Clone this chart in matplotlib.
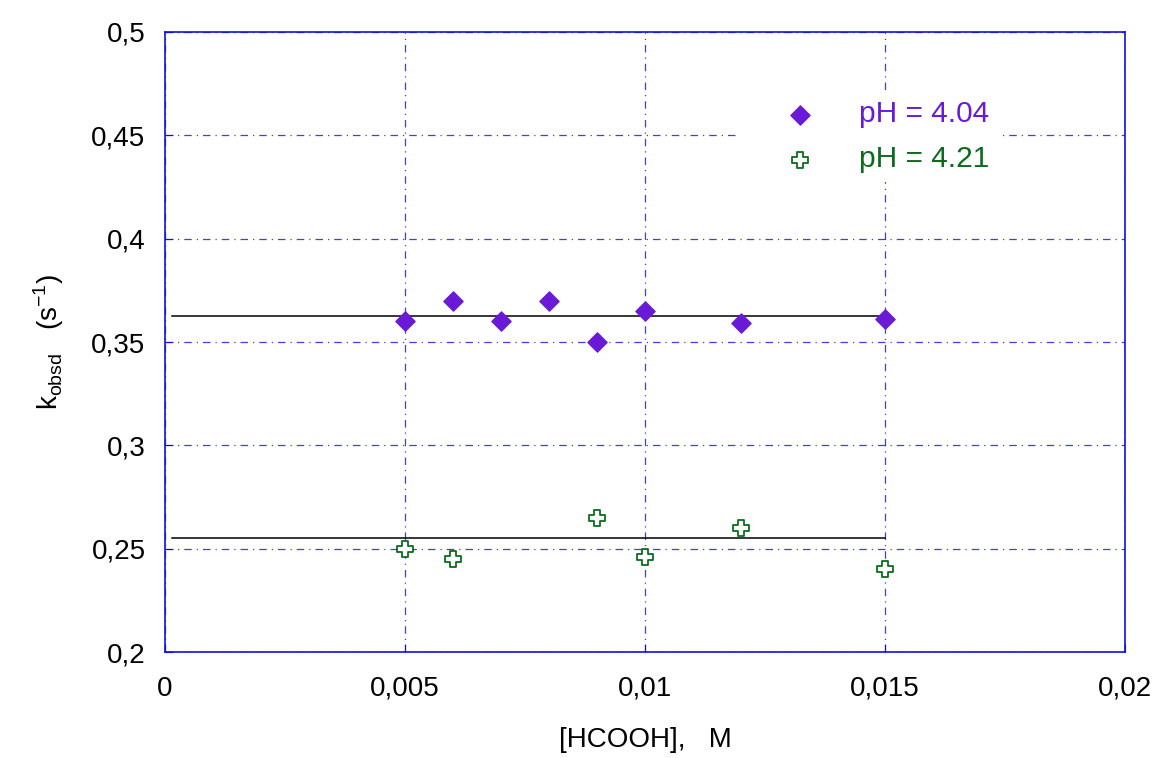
import matplotlib
matplotlib.use('Agg')
import matplotlib.pyplot as plt
from matplotlib.ticker import FuncFormatter

plt.rcParams['font.family'] = ['Liberation Sans', 'DejaVu Sans']

# pH = 4.04
x1 = [0.005, 0.006, 0.007, 0.008, 0.009, 0.010, 0.012, 0.015]
y1 = [0.360, 0.370, 0.360, 0.370, 0.350, 0.365, 0.359, 0.361]
fit1 = 0.3625

# pH = 4.21
x2 = [0.005, 0.006, 0.009, 0.010, 0.012, 0.015]
y2 = [0.250, 0.245, 0.265, 0.246, 0.260, 0.240]
fit2 = 0.2552

fit_x = [0.00015, 0.015]

xticks = [0, 0.005, 0.01, 0.015, 0.02]
yticks = [0.2, 0.25, 0.3, 0.35, 0.4, 0.45, 0.5]

c1 = '#6a1ad6'
c2 = '#0d6b1e'
blue = '#1010e0'

def comma(v, pos):
    s = ('%.4f' % v).rstrip('0').rstrip('.')
    return s.replace('.', ',')

fig = plt.figure(figsize=(11.55, 7.58), dpi=100)
ax = fig.add_axes([165/1155, 1-652/758, 960/1155, 620/758])

ax.set_xlim(0, 0.02)
ax.set_ylim(0.2, 0.5)
ax.set_xticks(xticks)
ax.set_yticks(yticks)
ax.xaxis.set_major_formatter(FuncFormatter(comma))
ax.yaxis.set_major_formatter(FuncFormatter(comma))
ax.tick_params(direction='in', colors=blue, labelcolor='black', labelsize=20, length=6)
ax.tick_params(axis='x', pad=17)
ax.tick_params(axis='y', pad=14)
for s in ax.spines.values():
    s.set_color(blue)
    s.set_linewidth(1.2)

ax.grid(True, color=blue, linestyle=(0, (6, 4, 1, 4)), linewidth=0.9, alpha=0.8)

ax.plot(fit_x, [fit1, fit1], color='black', lw=1.1, zorder=3)
ax.plot(fit_x, [fit2, fit2], color='black', lw=1.1, zorder=3)

ax.scatter(x1, y1, marker='D', s=95, color=c1, zorder=4, label='pH = 4.04')
ax.scatter(x2, y2, marker='P', s=140, facecolor='white', edgecolor=c2, linewidths=1.3,
           zorder=4, label='pH = 4.21')

leg = ax.legend(loc='upper left', bbox_to_anchor=(0.599, 0.904), frameon=True,
                fontsize=21.5, handlelength=3.4, handletextpad=0.3, borderpad=0.3,
                labelspacing=0.57, borderaxespad=0, framealpha=1)
leg.get_frame().set_edgecolor('white')
leg.get_frame().set_linewidth(0)
leg.get_texts()[0].set_color(c1)
leg.get_texts()[1].set_color(c2)

ax.set_xlabel('[HCOOH],   M', fontsize=20, labelpad=18)
ax.set_ylabel(r'k$_{\mathregular{obsd}}$   (s$^{\mathregular{-1}}$)', fontsize=20, labelpad=18)

fig.savefig('out.png', dpi=100)
